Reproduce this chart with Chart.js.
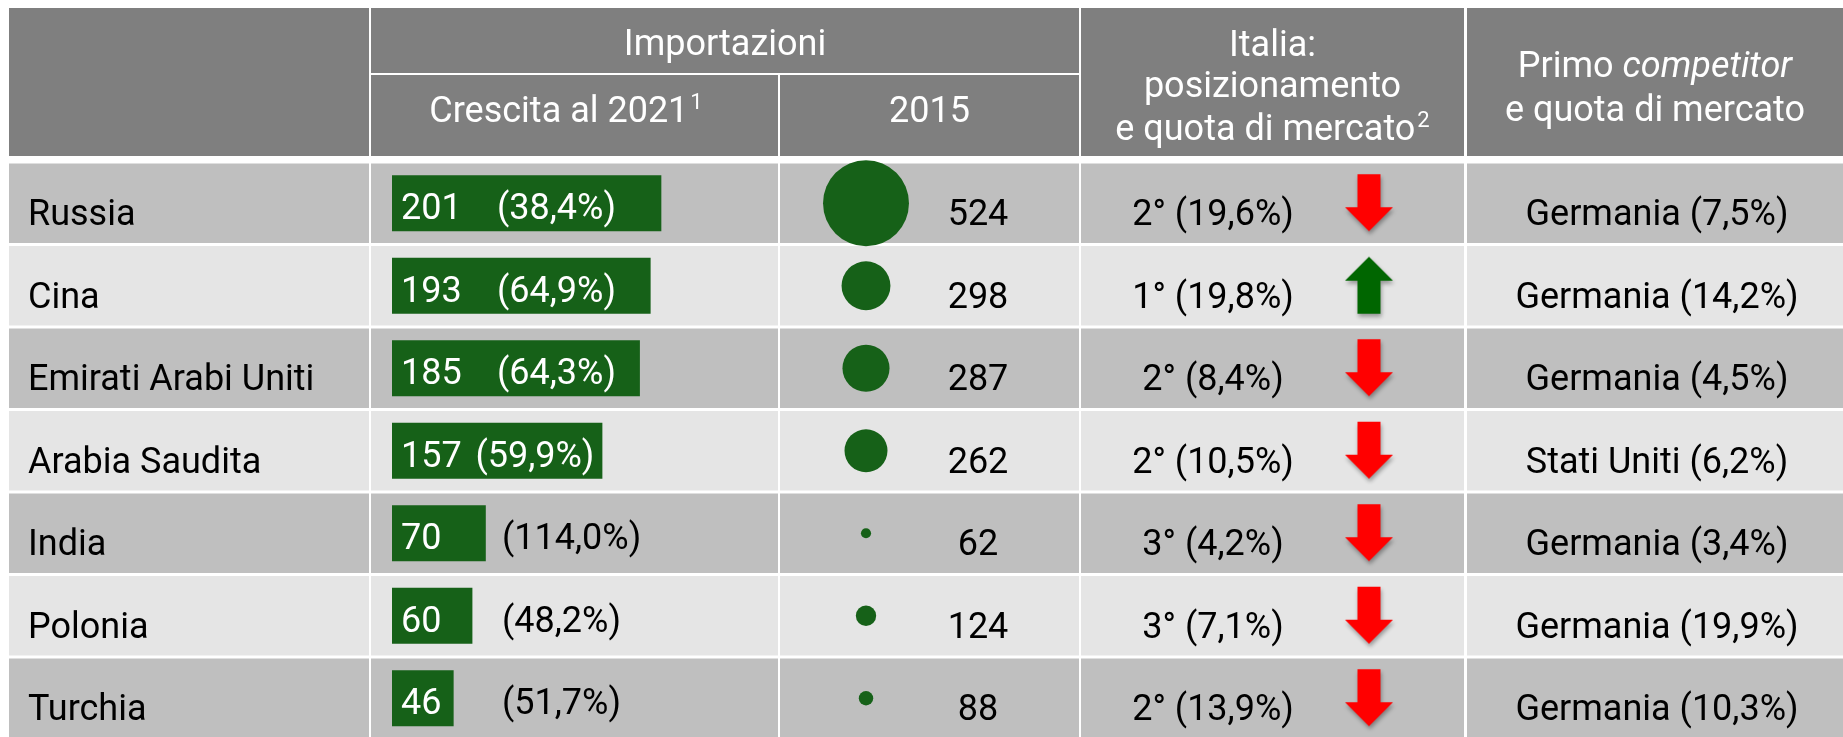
<!DOCTYPE html>
<html lang="it">
<head>
<meta charset="utf-8">
<title>Importazioni - crescita al 2021</title>
<script src="https://cdn.jsdelivr.net/npm/chart.js@4/dist/chart.umd.min.js"></script>
<style>
  html, body { margin: 0; padding: 0; background: #fff; overflow: hidden; }
  canvas { display: block; }
</style>
</head>
<body>
<canvas id="tableChart" width="1843" height="742"></canvas>
<script>
const countries = ['Russia', 'Cina', 'Emirati Arabi Uniti', 'Arabia Saudita', 'India', 'Polonia', 'Turchia'];
const growth2021 = [201, 193, 185, 157, 70, 60, 46];
const growthPct = [38.4, 64.9, 64.3, 59.9, 114.0, 48.2, 51.7];
const imports2015 = [524, 298, 287, 262, 62, 124, 88];
const italyRank = [2, 1, 2, 2, 3, 3, 2];
const italyShare = [19.6, 19.8, 8.4, 10.5, 4.2, 7.1, 13.9];
const italyTrend = ['down', 'up', 'down', 'down', 'down', 'down', 'down'];
const competitorName = ['Germania', 'Germania', 'Germania', 'Stati Uniti', 'Germania', 'Germania', 'Germania'];
const competitorShare = [7.5, 14.2, 4.5, 6.2, 3.4, 19.9, 10.3];

// layout / styles
const W = 1843;
const FONT = 'Roboto, "Noto Sans", sans-serif';
const FONT_SIZE = 36;
const GREEN = '#166118';
const HEADER_GRAY = '#7f7f7f';
const ROW_DARK = '#bfbfbf';
const ROW_LIGHT = '#e5e5e5';
const columns = [[9, 369], [371, 778], [780, 1079], [1081, 1464], [1467, 1843]];
const barStart = 392;      // where value 0 of the bars sits
const pxPerUnit = 1.34;
const bubbleX = 866;
const arrowX = 1369;
const bubbleScale = 0.082; // radius per unit of 2015 imports

const fmt = v => v.toFixed(1).replace('.', ',');

function makeArrow(dir, color) {
  const c = document.createElement('canvas');
  c.width = 64; c.height = 72;
  const g = c.getContext('2d');
  const w = 48, sw = 23, sh = 33, hh = 24, ox = 8, oy = 7;
  g.shadowColor = 'rgba(0,0,0,0.35)';
  g.shadowBlur = 4;
  g.shadowOffsetX = 1;
  g.shadowOffsetY = 3;
  g.fillStyle = color;
  g.beginPath();
  if (dir === 'down') {
    g.moveTo(ox + (w - sw) / 2, oy);
    g.lineTo(ox + (w + sw) / 2, oy);
    g.lineTo(ox + (w + sw) / 2, oy + sh);
    g.lineTo(ox + w, oy + sh);
    g.lineTo(ox + w / 2, oy + sh + hh);
    g.lineTo(ox, oy + sh);
    g.lineTo(ox + (w - sw) / 2, oy + sh);
  } else {
    g.moveTo(ox + w / 2, oy);
    g.lineTo(ox + w, oy + hh);
    g.lineTo(ox + (w + sw) / 2, oy + hh);
    g.lineTo(ox + (w + sw) / 2, oy + hh + sh);
    g.lineTo(ox + (w - sw) / 2, oy + hh + sh);
    g.lineTo(ox + (w - sw) / 2, oy + hh);
    g.lineTo(ox, oy + hh);
  }
  g.closePath();
  g.fill();
  return c;
}
const arrowDown = makeArrow('down', '#ff0000');
const arrowUp = makeArrow('up', '#006600');

// text with a small superscript, centred on cx
function textSup(ctx, main, sup, cx, y) {
  ctx.font = FONT_SIZE + 'px ' + FONT;
  const w1 = ctx.measureText(main).width;
  ctx.font = '22px ' + FONT;
  const w2 = ctx.measureText(sup).width;
  const start = cx - (w1 + w2 + 2) / 2;
  ctx.textAlign = 'left';
  ctx.font = FONT_SIZE + 'px ' + FONT;
  ctx.fillText(main, start, y);
  ctx.font = '22px ' + FONT;
  ctx.fillText(sup, start + w1 + 2, y - 13);
}

const tablePlugin = {
  id: 'tableLayout',
  beforeDraw(chart) {
    const ctx = chart.ctx;
    ctx.save();
    ctx.fillStyle = '#fff';
    ctx.fillRect(0, 0, chart.width, chart.height);

    // header cells
    ctx.fillStyle = HEADER_GRAY;
    const top = 8, mid1 = 73, mid2 = 75, bottom = 156;
    [0, 3, 4].forEach(i => ctx.fillRect(columns[i][0], top, columns[i][1] - columns[i][0], bottom - top));
    ctx.fillRect(columns[1][0], top, columns[2][1] - columns[1][0], mid1 - top);
    [1, 2].forEach(i => ctx.fillRect(columns[i][0], mid2, columns[i][1] - columns[i][0], bottom - mid2));

    // header text
    ctx.fillStyle = '#fff';
    ctx.textAlign = 'center';
    ctx.textBaseline = 'alphabetic';
    ctx.font = FONT_SIZE + 'px ' + FONT;
    ctx.fillText('Importazioni', (columns[1][0] + columns[2][1]) / 2, 55);
    textSup(ctx, 'Crescita al 2021', '1', 566, 122);
    ctx.textAlign = 'center';
    ctx.font = FONT_SIZE + 'px ' + FONT;
    ctx.fillText('2015', (columns[2][0] + columns[2][1]) / 2, 122);
    const itX = (columns[3][0] + columns[3][1]) / 2;
    ctx.fillText('Italia:', itX, 56);
    ctx.fillText('posizionamento', itX, 97);
    textSup(ctx, 'e quota di mercato', '2', itX, 140);

    const cpX = (columns[4][0] + columns[4][1]) / 2;
    ctx.font = FONT_SIZE + 'px ' + FONT;
    const wa = ctx.measureText('Primo ').width;
    ctx.font = 'italic ' + FONT_SIZE + 'px ' + FONT;
    const wb = ctx.measureText('competitor').width;
    const sx = cpX - (wa + wb) / 2;
    ctx.textAlign = 'left';
    ctx.font = FONT_SIZE + 'px ' + FONT;
    ctx.fillText('Primo ', sx, 77);
    ctx.font = 'italic ' + FONT_SIZE + 'px ' + FONT;
    ctx.fillText('competitor', sx + wa, 77);
    ctx.textAlign = 'center';
    ctx.font = FONT_SIZE + 'px ' + FONT;
    ctx.fillText('e quota di mercato', cpX, 121);
    ctx.restore();
  },
  beforeDatasetsDraw(chart) {
    const ctx = chart.ctx;
    const y = chart.scales.y;
    const area = chart.chartArea;
    const pitch = (area.bottom - area.top) / countries.length;
    ctx.save();
    countries.forEach((c, i) => {
      const cy = y.getPixelForValue(i);
      const t = cy - pitch / 2 + 1.5;
      ctx.fillStyle = i % 2 === 0 ? ROW_DARK : ROW_LIGHT;
      columns.forEach(col => ctx.fillRect(col[0], t, col[1] - col[0], pitch - 3));
    });
    ctx.restore();
  },
  afterDatasetsDraw(chart) {
    const ctx = chart.ctx;
    const y = chart.scales.y;
    const x = chart.scales.x;
    const base = x.getPixelForValue(0);
    ctx.save();
    ctx.font = FONT_SIZE + 'px ' + FONT;
    ctx.textBaseline = 'alphabetic';
    countries.forEach((c, i) => {
      const cy = y.getPixelForValue(i);
      const ty = cy + 22;
      ctx.fillStyle = '#000';
      ctx.textAlign = 'left';
      ctx.fillText(c, 28, ty);

      // bar labels
      const barEnd = x.getPixelForValue(growth2021[i]);
      const pct = '(' + fmt(growthPct[i]) + '%)';
      const pw = ctx.measureText(pct).width;
      const by = cy + 16;
      ctx.fillStyle = '#fff';
      ctx.fillText(String(growth2021[i]), base + 9, by);
      if (growth2021[i] >= 100) {
        ctx.fillText(pct, Math.min(base + 105, barEnd - pw - 8), by);
      } else {
        ctx.fillStyle = '#000';
        ctx.fillText(pct, base + 110, by);
      }

      ctx.fillStyle = '#000';
      ctx.textAlign = 'center';
      ctx.fillText(String(imports2015[i]), 978, ty);
      ctx.fillText(italyRank[i] + '° (' + fmt(italyShare[i]) + '%)', 1213, ty);
      ctx.fillText(competitorName[i] + ' (' + fmt(competitorShare[i]) + '%)', 1657, ty);
    });
    ctx.restore();
  }
};

const hiddenAxis = { display: false, offset: false, ticks: { display: false }, grid: { display: false, offset: false } };

new Chart(document.getElementById('tableChart'), {
  type: 'bar',
  data: {
    labels: countries,
    datasets: [
      {
        type: 'bar',
        indexAxis: 'y',
        data: growth2021,
        backgroundColor: GREEN,
        borderWidth: 0,
        grouped: false,
        barPercentage: 0.68,
        categoryPercentage: 1,
        xAxisID: 'x',
        yAxisID: 'y'
      },
      {
        type: 'bubble',
        data: imports2015.map((v, i) => ({ x: bubbleX, y: countries[i], r: v * bubbleScale })),
        backgroundColor: GREEN,
        borderWidth: 0,
        clip: false,
        xAxisID: 'xp',
        yAxisID: 'y'
      },
      {
        type: 'scatter',
        data: countries.map(c => ({ x: arrowX, y: c })),
        pointStyle: italyTrend.map(t => t === 'up' ? arrowUp : arrowDown),
        clip: false,
        xAxisID: 'xp',
        yAxisID: 'y'
      }
    ]
  },
  options: {
    responsive: false,
    animation: false,
    devicePixelRatio: 1,
    layout: { autoPadding: false, padding: { top: 162, bottom: 2.5, left: 0, right: 0 } },
    plugins: { legend: { display: false }, tooltip: { enabled: false } },
    scales: {
      y: { ...hiddenAxis, type: 'category', labels: countries, offset: true, grid: { display: false, offset: true } },
      x: { ...hiddenAxis, type: 'linear', position: 'bottom', min: -barStart / pxPerUnit, max: (W - barStart) / pxPerUnit },
      xp: { ...hiddenAxis, type: 'linear', axis: 'x', position: 'bottom', min: 0, max: W }
    }
  },
  plugins: [tablePlugin]
});
</script>
</body>
</html>
